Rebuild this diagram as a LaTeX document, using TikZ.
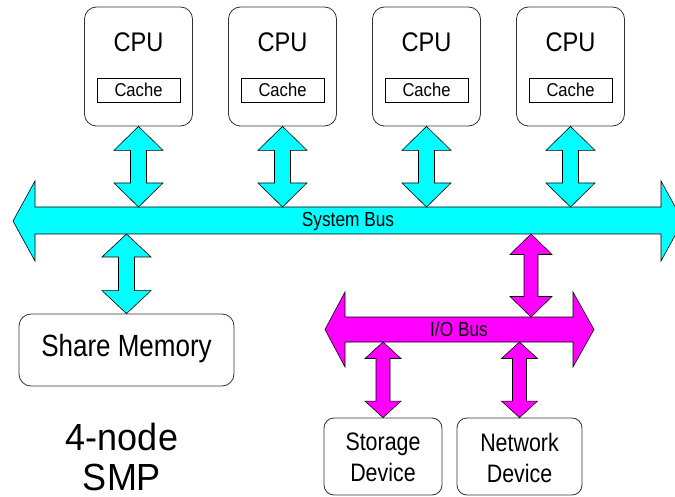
\documentclass[tikz,border=0pt]{standalone}
\usepackage{fontspec}
\usepackage{graphicx}
\setmainfont{Liberation Sans}
\usetikzlibrary{calc}
\definecolor{buscyan}{HTML}{00FFFF}
\definecolor{busmag}{HTML}{FF00FF}
\newcommand\vs[2]{\scalebox{1}[#1]{#2}}
% #1 style, #2 top point, #3 bottom point, #4 half head width, #5 half shaft width, #6 head length
\newcommand\biarrow[6]{%
  \draw[#1] let \p1=(#2), \p2=(#3) in
    (\x1,\y1) -- (\x1+#4,\y1-#6) -- (\x1+#5,\y1-#6) -- (\x1+#5,\y2+#6) -- (\x1+#4,\y2+#6)
    -- (\x1,\y2) -- (\x1-#4,\y2+#6) -- (\x1-#5,\y2+#6) -- (\x1-#5,\y1-#6) -- (\x1-#4,\y1-#6) -- cycle;}
\tikzset{
  box/.style={draw=black!80, line width=0.8pt, rounded corners=12pt, inner sep=0pt},
  cachebox/.style={draw=black, line width=0.6pt, minimum width=83pt, minimum height=24pt, inner sep=0pt, font=\fontsize{16.6}{18}\selectfont},
  cpulabel/.style={inner sep=0pt, font=\fontsize{23.6}{26}\selectfont},
  cyanshape/.style={fill=buscyan, draw=black, line width=0.6pt, line join=miter},
  magshape/.style={fill=busmag, draw=black, line width=0.6pt, line join=miter},
  buslabel/.style={inner sep=0pt, font=\fontsize{17.3}{19}\selectfont},
}
\begin{document}
\begin{tikzpicture}[x=1pt,y=-1pt]
\useasboundingbox (0,0) rectangle (675,497);
\clip (0,0) rectangle (675,497);
% CPU boxes
\foreach \i/\cx in {1/138.5,2/282.5,3/426.5,4/570.5}{
  \node[box, minimum width=108pt, minimum height=119pt] (cpu\i) at (\cx,66.5) {};
  \node[cpulabel] (cputxt\i) at (\cx,42) {\vs{1.14}{CPU}};
  \node[cachebox] (cache\i) at (\cx,90) {\vs{1.12}{Cache}};
}
% System bus
\coordinate (sbtop) at (0,207);
\coordinate (sbbot) at (0,234);
\draw[cyanshape] (13,221) -- (35,181) -- (35,207) -- (661,207) -- (661,181) -- (683,221)
  -- (661,261) -- (661,234) -- (35,234) -- (35,261) -- cycle;
\node[buslabel] (sysbus) at (348,221) {\vs{1.18}{System Bus}};
% Share memory
\node[box, minimum width=215pt, minimum height=72pt] (mem) at (126.5,350) {};
\node[inner sep=0pt, font=\fontsize{26}{28}\selectfont] (memtxt) at (126.5,349) {\vs{1.18}{Share Memory}};
% I/O bus
\coordinate (iotop) at (0,317);
\coordinate (iobot) at (0,342);
\draw[magshape] (325,329.5) -- (345,292) -- (345,317) -- (573,317) -- (573,292) -- (594,329.5)
  -- (573,367) -- (573,342) -- (345,342) -- (345,367) -- cycle;
\node[buslabel] (iobus) at (459,329) {\vs{1.18}{I/O Bus}};
% devices
\node[box, rounded corners=10pt, minimum width=118pt, minimum height=77pt] (stor) at (383,456.5) {};
\node[box, rounded corners=10pt, minimum width=125pt, minimum height=77pt] (net) at (519.5,456.5) {};
\node[inner sep=0pt, font=\fontsize{21.4}{31}\selectfont, align=center] (stortxt) at (383,457.5) {\vs{1.18}{Storage}\\\vs{1.18}{Device}};
\node[inner sep=0pt, font=\fontsize{21.4}{31}\selectfont, align=center] (nettxt) at (519.5,457.5) {\vs{1.18}{Network}\\\vs{1.18}{Device}};
% title
\node[inner sep=0pt, font=\fontsize{36}{40}\selectfont, align=center] (title) at (122,457) {\vs{1.05}{4-node}\\\vs{1.05}{SMP}};
% CPU <-> system bus arrows
\foreach \i in {1,2,3,4}{
  \biarrow{cyanshape}{cpu\i.south}{cpu\i.south |- sbtop}{24.5pt}{8pt}{24pt}
}
% memory arrow
\biarrow{cyanshape}{mem.north |- sbbot}{mem.north}{24.5pt}{8pt}{23pt}
% system bus <-> I/O bus
\coordinate (iolink) at (531,0);
\biarrow{magshape}{iolink |- sbbot}{iolink |- iotop}{21pt}{7pt}{20.5pt}
% I/O bus <-> devices
\biarrow{magshape}{stor.north |- iobot}{stor.north}{18pt}{7pt}{16.5pt}
\biarrow{magshape}{net.north |- iobot}{net.north}{18pt}{7pt}{16.5pt}
\end{tikzpicture}
\end{document}
